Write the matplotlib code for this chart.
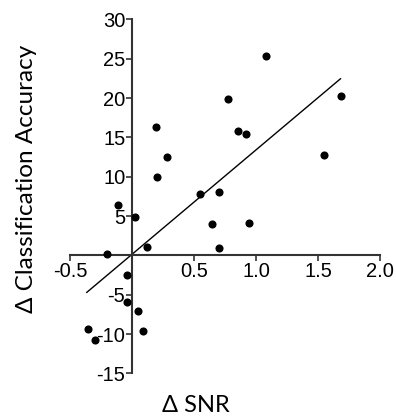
import numpy as np
import matplotlib
matplotlib.use("Agg")
import matplotlib.pyplot as plt

# Data
delta_snr = [0.192, 0.281, 0.197, 0.543, 0.702, 0.775, 0.851, 0.921, 1.078, 1.548, 1.686,
             -0.116, 0.019, 0.646, 0.943, 0.122, 0.697, -0.203, -0.040, -0.043, 0.043,
             0.089, -0.359, -0.297]
delta_acc = [16.3, 12.5, 9.95, 7.8, 8.0, 19.9, 15.75, 15.4, 25.4, 12.7, 20.3,
             6.4, 4.9, 3.96, 4.1, 1.08, 0.9, 0.15, -2.5, -5.9, -7.0,
             -9.6, -9.3, -10.8]

# Regression line as drawn (slope/intercept) and its extent
fit_slope = 13.26
fit_intercept = 0.17
fit_x_range = [-0.367, 1.68]

x_ticks = [-0.5, 0.5, 1.0, 1.5, 2.0]
x_ticklabels = ["-0.5", "0.5", "1.0", "1.5", "2.0"]
y_ticks = [-15, -10, -5, 5, 10, 15, 20, 25, 30]
y_ticklabels = ["-15", "-10", "-5", "5", "10", "15", "20", "25", "30"]

fig = plt.figure(figsize=(3.96, 4.16), dpi=100)
ax = fig.add_axes([0.1775, 0.1022, 0.960 - 0.1775, 0.9536 - 0.1022])

ax.scatter(delta_snr, delta_acc, s=34, color="black", zorder=3, linewidths=0)
lx = np.array(fit_x_range)
ax.plot(lx, fit_slope * lx + fit_intercept, color="black", lw=1.0, zorder=2)

ax.set_xlim(-0.5, 2.0)
ax.set_ylim(-15, 30)

for s in ["top", "right"]:
    ax.spines[s].set_visible(False)
ax.spines["left"].set_position(("data", 0))
ax.spines["bottom"].set_position(("data", 0))
for s in ["left", "bottom"]:
    ax.spines[s].set_color("#333333")
    ax.spines[s].set_linewidth(1.5)

ax.set_xticks(x_ticks)
ax.set_xticklabels(x_ticklabels)
ax.set_yticks(y_ticks)
ax.set_yticklabels(y_ticklabels)
ax.tick_params(direction="out", length=4, width=1.2, color="#333333",
               labelsize=14.5, pad=1)
for lab in ax.get_xticklabels() + ax.get_yticklabels():
    lab.set_family(["Liberation Sans", "DejaVu Sans"])

fig.text(0.066, 0.570, "Δ Classification Accuracy", rotation=90, ha="center", va="center",
         fontsize=17.5, family=["Lato", "DejaVu Sans"])
fig.text(0.494, 0.0096, "Δ SNR", ha="center", va="baseline",
         fontsize=17, family=["Lato", "DejaVu Sans"])

fig.savefig("out.png", dpi=100)
